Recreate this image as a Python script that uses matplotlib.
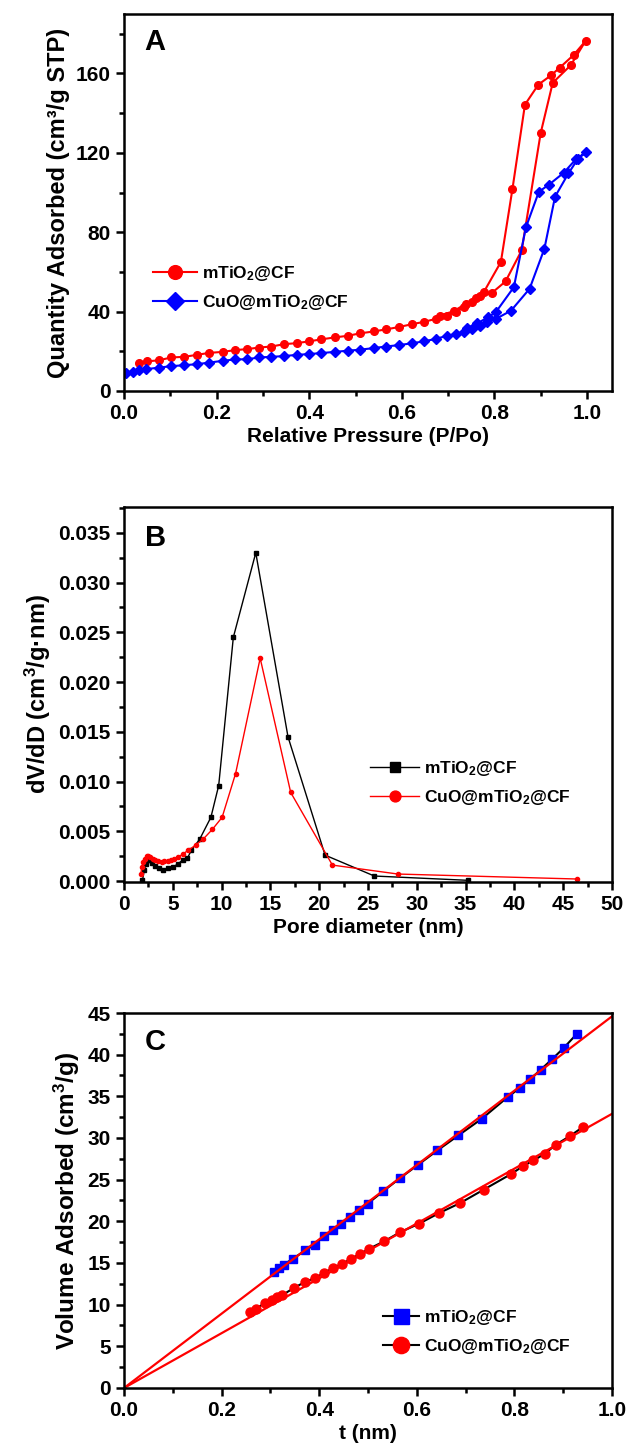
"""Nitrogen sorption figure: isotherms (A), pore size distribution (B), t-plot (C)."""

import matplotlib

matplotlib.use("Agg")
import matplotlib.pyplot as plt
from matplotlib.ticker import MultipleLocator

# ---- panel A: isotherms (adsorption then desorption, one polyline each) ----
iso_ti_p = [0.033, 0.05, 0.076, 0.102, 0.13, 0.157, 0.184, 0.213, 0.24, 0.266,
            0.292, 0.318, 0.346, 0.373, 0.399, 0.426, 0.455, 0.483, 0.509, 0.539,
            0.565, 0.593, 0.621, 0.647, 0.673, 0.697, 0.716, 0.734, 0.751, 0.768,
            0.794, 0.824, 0.859, 0.9, 0.926, 0.965, 0.997,
            0.971, 0.941, 0.922, 0.895, 0.866, 0.839, 0.814, 0.777, 0.761, 0.738,
            0.712, 0.682]
iso_ti_q = [14.3, 14.9, 15.5, 16.9, 17.2, 18.2, 19.2, 19.7, 20.6, 21.1,
            21.9, 22.4, 23.6, 24.1, 25.0, 26.0, 27.0, 27.8, 29.0, 30.0,
            31.0, 32.2, 33.6, 34.8, 36.3, 38.0, 39.7, 42.2, 44.7, 47.8,
            49.3, 55.2, 70.9, 130.0, 155.3, 164.2, 176.4,
            169.3, 162.9, 159.0, 154.4, 144.3, 101.8, 65.0, 49.8, 46.8, 43.9,
            40.2, 38.0]

iso_cu_p = [0.005, 0.02, 0.033, 0.048, 0.076, 0.102, 0.13, 0.157, 0.184, 0.213,
            0.24, 0.266, 0.292, 0.318, 0.346, 0.373, 0.399, 0.426, 0.455, 0.483,
            0.509, 0.539, 0.565, 0.593, 0.621, 0.647, 0.673, 0.697, 0.716, 0.734,
            0.751, 0.768, 0.785, 0.803, 0.836, 0.876, 0.908, 0.931, 0.96, 0.98,
            0.997,
            0.976, 0.95, 0.918, 0.896, 0.868, 0.842, 0.803, 0.786, 0.763, 0.74]
iso_cu_q = [9.3, 9.8, 10.5, 11.0, 11.8, 12.5, 13.0, 13.5, 14.3, 15.2,
            15.9, 16.0, 16.9, 17.2, 17.6, 18.2, 18.6, 19.1, 19.7, 20.3,
            20.8, 21.6, 22.4, 23.1, 24.0, 25.0, 26.2, 27.8, 28.7, 29.9,
            31.2, 32.9, 34.6, 36.3, 40.5, 51.5, 71.7, 97.9, 109.7, 116.8,
            120.2,
            116.8, 110.0, 104.0, 100.4, 82.4, 52.3, 39.7, 37.1, 34.1, 31.5]

# ---- panel B: pore size distribution ----
psd_ti_d = [1.89, 2.07, 2.24, 2.41, 2.6, 2.9, 3.2, 3.6, 4.0, 4.48, 5.0, 5.5,
            6.0, 6.5, 6.9, 7.75, 8.9, 9.7, 11.2, 13.5, 16.8, 20.6, 25.65, 35.2]
psd_ti_v = [0.00007, 0.00107, 0.0017, 0.0021, 0.0021, 0.0018, 0.0015, 0.0013,
            0.0011, 0.0013, 0.0014, 0.0017, 0.0021, 0.0023, 0.0031, 0.0042,
            0.0064, 0.0096, 0.0245, 0.0330, 0.0145, 0.0026, 0.0005, 0.00007]

psd_cu_d = [1.72, 1.82, 1.96, 2.13, 2.31, 2.48, 2.69, 2.93, 3.2, 3.5, 3.86,
            4.13, 4.48, 4.82, 5.17, 5.58, 6.0, 6.6, 7.33, 8.1, 9.06, 10.05,
            11.43, 13.95, 17.08, 21.35, 28.06, 46.4]
psd_cu_v = [0.0007, 0.0014, 0.0019, 0.0022, 0.0025, 0.0025, 0.0024, 0.0022,
            0.0021, 0.0020, 0.0019, 0.0020, 0.0020, 0.0021, 0.0022, 0.0024,
            0.0027, 0.0031, 0.0036, 0.0042, 0.0052, 0.0064, 0.0108, 0.0224,
            0.0089, 0.0016, 0.0007, 0.0002]

# ---- panel C: t-plot ----
tp_ti_t = [0.3076, 0.317, 0.327, 0.346, 0.371, 0.391, 0.41, 0.428, 0.445,
           0.464, 0.482, 0.499, 0.531, 0.566, 0.603, 0.642, 0.685, 0.733,
           0.786, 0.811, 0.833, 0.854, 0.878, 0.901, 0.928]
tp_ti_v = [13.9, 14.4, 14.8, 15.5, 16.5, 17.2, 18.2, 18.9, 19.7, 20.5, 21.4,
           22.1, 23.6, 25.2, 26.8, 28.5, 30.3, 32.3, 34.9, 36.0, 37.1, 38.2,
           39.5, 40.8, 42.5]

tp_cu_t = [0.259, 0.27, 0.289, 0.303, 0.3125, 0.323, 0.348, 0.37, 0.391, 0.41,
           0.428, 0.447, 0.465, 0.484, 0.502, 0.533, 0.566, 0.604, 0.646,
           0.689, 0.737, 0.794, 0.817, 0.839, 0.862, 0.885, 0.913, 0.94]
tp_cu_v = [9.1, 9.5, 10.2, 10.5, 10.9, 11.1, 12.0, 12.7, 13.2, 13.8, 14.4,
           14.9, 15.5, 16.1, 16.7, 17.6, 18.7, 19.7, 21.0, 22.2, 23.8, 25.7,
           26.6, 27.3, 28.1, 29.2, 30.2, 31.3]

# linear fits through the origin (end points)
fit_t = [0.0, 1.0]
fit_ti = [0.0, 44.6]
fit_cu = [0.0, 32.9]

LBL_TI = "mTiO$_2$@CF"
LBL_CU = "CuO@mTiO$_2$@CF"

plt.rcParams["font.family"] = ["Liberation Sans", "DejaVu Sans"]
plt.rcParams["font.weight"] = "bold"
plt.rcParams["axes.labelweight"] = "bold"
plt.rcParams["mathtext.fontset"] = "custom"
plt.rcParams["mathtext.rm"] = "Liberation Sans:bold"
plt.rcParams["mathtext.bf"] = "Liberation Sans:bold"
plt.rcParams["mathtext.default"] = "rm"


def style_axes(ax, xmajor, xminor, ymajor, yminor):
    for s in ax.spines.values():
        s.set_linewidth(1.8)
    ax.xaxis.set_major_locator(MultipleLocator(xmajor))
    ax.xaxis.set_minor_locator(MultipleLocator(xminor))
    ax.yaxis.set_major_locator(MultipleLocator(ymajor))
    ax.yaxis.set_minor_locator(MultipleLocator(yminor))
    ax.tick_params(which="major", direction="out", length=6, width=1.8,
                   labelsize=15, top=False, right=False)
    ax.tick_params(which="minor", direction="out", length=3.5, width=1.8,
                   top=False, right=False)
    for lab in ax.get_xticklabels() + ax.get_yticklabels():
        lab.set_fontweight("bold")


def main():
    fig = plt.figure(figsize=(6.28, 14.54), dpi=100)

    # ---------------- A ----------------
    ax = fig.add_axes([0.1975, 0.7311, 0.777, 0.2593])
    ax.plot(iso_ti_p, iso_ti_q, color="#ff0000", lw=1.5, marker="o", ms=5.5,
            label=LBL_TI)
    ax.plot(iso_cu_p, iso_cu_q, color="#0000ff", lw=1.5, marker="D", ms=5,
            label=LBL_CU)
    ax.set_xlim(0, 1.054)
    ax.set_ylim(0, 190)
    style_axes(ax, 0.2, 0.1, 40, 20)
    ax.xaxis.set_major_formatter(lambda v, p: f"{v:.1f}")
    ax.set_xlabel("Relative Pressure (P/Po)", fontsize=15, labelpad=3)
    ax.set_ylabel("Quantity Adsorbed (cm\u00b3/g STP)", fontsize=17, labelpad=4)
    ax.text(0.064, 0.925, "A", transform=ax.transAxes, fontsize=21,
            fontweight="bold", ha="center", va="center")
    ax.legend(loc="center left", bbox_to_anchor=(0.06, 0.273), frameon=False,
              fontsize=12.5, markerscale=1.8, handlelength=2.5, handletextpad=0.3,
              borderpad=0, borderaxespad=0, labelspacing=0.55)

    # ---------------- B ----------------
    ax = fig.add_axes([0.1975, 0.3934, 0.777, 0.2579])
    ax.plot(psd_ti_d, psd_ti_v, color="black", lw=1.0, marker="s", ms=3,
            label=LBL_TI)
    ax.plot(psd_cu_d, psd_cu_v, color="#ff0000", lw=1.0, marker="o", ms=3,
            label=LBL_CU)
    ax.set_xlim(0, 50)
    ax.set_ylim(-0.0001, 0.0376)
    style_axes(ax, 5, 2.5, 0.005, 0.0025)
    ax.yaxis.set_major_formatter(lambda v, p: f"{v:.3f}")
    ax.set_xlabel("Pore diameter (nm)", fontsize=15, labelpad=3)
    ax.set_ylabel("dV/dD (cm$^3$/g\u00b7nm)", fontsize=17, labelpad=4)
    ax.text(0.065, 0.918, "B", transform=ax.transAxes, fontsize=21,
            fontweight="bold", ha="center", va="center")
    ax.legend(loc="center left", bbox_to_anchor=(0.505, 0.264), frameon=False,
              fontsize=12.5, markerscale=2.6, handlelength=2.8, handletextpad=0.3,
              borderpad=0, borderaxespad=0, labelspacing=0.55)

    # ---------------- C ----------------
    ax = fig.add_axes([0.1975, 0.0454, 0.777, 0.2579])
    ax.plot(tp_ti_t, tp_ti_v, color="black", lw=1.5, marker="s", ms=6,
            mfc="#0000ff", mec="#0000ff", label=LBL_TI)
    ax.plot(tp_cu_t, tp_cu_v, color="black", lw=1.5, marker="o", ms=6.5,
            mfc="#ff0000", mec="#ff0000", label=LBL_CU)
    ax.plot(fit_t, fit_ti, color="#ff0000", lw=1.6)
    ax.plot(fit_t, fit_cu, color="#ff0000", lw=1.6)
    ax.set_xlim(0, 1.0)
    ax.set_ylim(0, 45)
    style_axes(ax, 0.2, 0.1, 5, 2.5)
    ax.xaxis.set_major_formatter(lambda v, p: f"{v:.1f}")
    ax.set_xlabel("t (nm)", fontsize=15, labelpad=3)
    ax.set_ylabel("Volume Adsorbed (cm$^3$/g)", fontsize=17.5, labelpad=4)
    ax.text(0.064, 0.924, "C", transform=ax.transAxes, fontsize=21,
            fontweight="bold", ha="center", va="center")
    ax.legend(loc="center left", bbox_to_anchor=(0.53, 0.149), frameon=False,
              fontsize=12.5, markerscale=1.8, handlelength=2.1, handletextpad=0.3,
              borderpad=0, borderaxespad=0, labelspacing=0.55)

    fig.savefig("out.png", dpi=100)


if __name__ == "__main__":
    main()
